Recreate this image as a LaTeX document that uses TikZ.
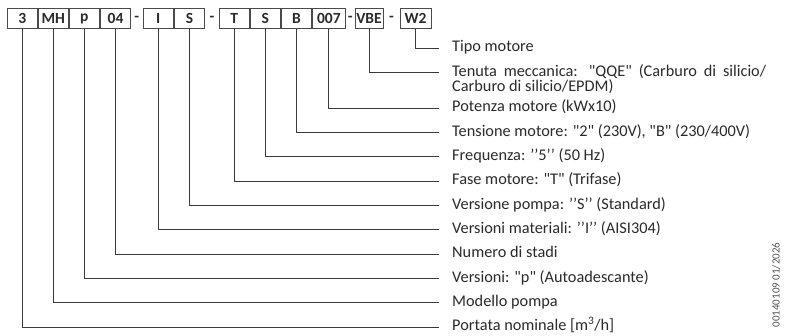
\documentclass[tikz,border=0pt]{standalone}
\usepackage{fontspec}
\setmainfont{Carlito}[Ligatures=TeXOff]
\usetikzlibrary{positioning,calc}
\definecolor{lineGray}{HTML}{3A3A3A}
\definecolor{boxGray}{HTML}{4A4A4A}
\definecolor{textDark}{HTML}{2A2A2A}
\definecolor{codeGray}{HTML}{555555}

\begin{document}
\begin{tikzpicture}[
      x=1pt, y=-1pt,
      codebox/.style={
        rectangle, draw=boxGray, line width=0.8pt, inner sep=0pt,
        minimum height=20pt, minimum width=30.3pt,
        text=textDark, font=\fontsize{15.5pt}{17pt}\selectfont\bfseries
      },
      sepdash/.style={inner sep=0pt, text=textDark, font=\fontsize{15.5pt}{17pt}\selectfont\bfseries},
      desc/.style={
        anchor=west, inner xsep=13pt, inner ysep=0pt, text height=11.5pt, text depth=3.5pt,
        text=textDark, font=\fontsize{16.3pt}{15pt}\selectfont
      },
      codetag/.style={rotate=90, inner sep=0pt, text=codeGray, font=\fontsize{11pt}{12pt}\selectfont},
      lead/.style={draw=lineGray, line width=0.8pt}
    ]
      \useasboundingbox (0,0) rectangle (787,336);

      % code boxes
      \node[codebox] (k1) at (22.2,18.5) {3};
      \node[codebox, right=0pt of k1] (k2) {MH};
      \node[codebox, right=0pt of k2] (k3) {p};
      \node[codebox, right=0pt of k3] (k4) {04};
      \node[codebox, minimum width=30.5pt] (k5) at (158.3,18.5) {I};
      \node[codebox, minimum width=30.5pt, right=0pt of k5] (k6) {S};
      \node[codebox] (k7) at (234.2,18.5) {T};
      \node[codebox, right=0pt of k7] (k8) {S};
      \node[codebox, right=0pt of k8] (k9) {B};
      \node[codebox, minimum width=33pt, right=0pt of k9] (k10) {007};
      \node[codebox, minimum width=28pt] (k11) at (369,18.5) {VBE};
      \node[codebox, minimum width=31pt] (k12) at (415.5,18.5) {W2};

      \node[sepdash] (d1) at ($(k4.east)!0.5!(k5.west)$) {-};
      \node[sepdash] (d2) at ($(k6.east)!0.5!(k7.west)$) {-};
      \node[sepdash] (d3) at ($(k10.east)!0.5!(k11.west)$) {-};
      \node[sepdash] (d4) at ($(k11.east)!0.5!(k12.west)$) {-};

      % descriptions
      \node[desc] (l1) at (439,48) {Tipo motore};
      \coordinate (t2) at (439,72);
      \node[anchor=north west, inner xsep=13pt, inner ysep=0pt, align=left, text=textDark,
            font=\fontsize{16.3pt}{15pt}\selectfont] (l2) at (439,64.8)
        {\makebox[314pt][s]{Tenuta meccanica: "QQE" (Carburo di silicio/}\\Carburo di silicio/EPDM)};
      \node[desc] (l3) at (439,108) {Potenza motore (kWx10)};
      \node[desc] (l4) at (439,132.3) {Tensione motore: "2" (230V), "B" (230/400V)};
      \node[desc] (l5) at (439,156.7) {Frequenza: ’’5’’ (50 Hz)};
      \node[desc] (l6) at (439,181) {Fase motore: "T" (Trifase)};
      \node[desc] (l7) at (439,205.3) {Versione pompa: ’’S’’ (Standard)};
      \node[desc] (l8) at (439,229.7) {Versioni materiali: ’’I’’ (AISI304)};
      \node[desc] (l9) at (439,254) {Numero di stadi};
      \node[desc] (l10) at (439,278.3) {Versioni: "p" (Autoadescante)};
      \node[desc] (l11) at (439,302.7) {Modello pompa};
      \node[desc] (l12) at (439,327) {Portata nominale [m\textsuperscript{3}/h]};

      \node[codetag] (tag) at (776,285) {00140109 01/2026};

      \draw[lead] (k12.south) |- (l1);
      \draw[lead] (k11.south) |- (t2);
      \draw[lead] (k10.south) |- (l3);
      \draw[lead] (k9.south) |- (l4);
      \draw[lead] (k8.south) |- (l5);
      \draw[lead] (k7.south) |- (l6);
      \draw[lead] (k6.south) |- (l7);
      \draw[lead] (k5.south) |- (l8);
      \draw[lead] (k4.south) |- (l9);
      \draw[lead] (k3.south) |- (l10);
      \draw[lead] (k2.south) |- (l11);
      \draw[lead] (k1.south) |- (l12);
    \end{tikzpicture}
\end{document}
